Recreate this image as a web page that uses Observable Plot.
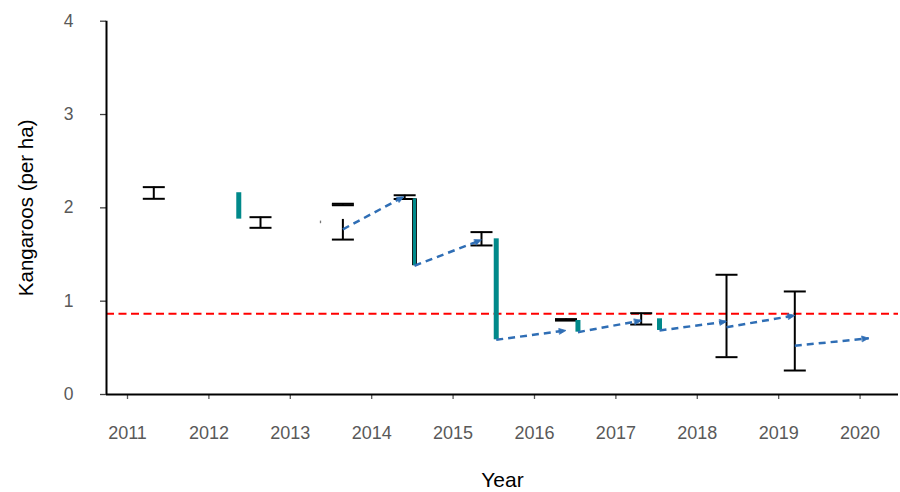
<!DOCTYPE html>
<html><head><meta charset="utf-8">
<script src="https://cdn.jsdelivr.net/npm/d3@7"></script>
<script src="https://cdn.jsdelivr.net/npm/@observablehq/plot@0.6"></script>
<style>body{margin:0;background:#fff} svg{display:block}</style>
</head><body><div id="chart"></div>
<script>
// ---- data ----
const yearTicks = [2011, 2012, 2013, 2014, 2015, 2016, 2017, 2018, 2019, 2020];
const yTicks = [0, 1, 2, 3, 4];
const xDomain = [2010.742, 2020.472];
const yDomain = [0, 4];
const threshold = 0.865;

// survey confidence intervals
const surveyTime = [2011.323, 2012.634, 2013.646, 2014.405, 2015.349, 2016.387, 2017.311, 2018.359, 2019.198];
const surveyHi   = [2.222, 1.900, 2.044, 2.135, 1.740, 0.808, 0.871, 1.283, 1.104];
const surveyLo   = [2.097, 1.786, 2.028, 2.095, 1.597, 0.792, 0.750, 0.400, 0.257];

// lower-only interval
const lowerOnlyTime = [2013.646];
const lowerOnlyMid  = [1.876];
const lowerOnlyLo   = [1.660];

// culls (drops)
const cullTime = [2012.367, 2014.526, 2015.530, 2016.534, 2017.536];
const cullFrom = [2.162, 2.097, 1.668, 0.793, 0.811];
const cullTo   = [1.879, 1.380, 0.586, 0.668, 0.686];
const cullOutlined = [false, true, false, false, false];

// tiny mark
const markTime = [2013.371];
const markFrom = [1.858];
const markTo   = [1.830];

// growth arrows
const growStartTime = [2013.646, 2014.526, 2015.530, 2016.534, 2017.536, 2018.359, 2019.198];
const growStartVal  = [1.770, 1.380, 0.586, 0.668, 0.686, 0.721, 0.522];
const growEndTime   = [2014.395, 2015.349, 2016.387, 2017.311, 2018.359, 2019.198, 2020.107];
const growEndVal    = [2.120, 1.657, 0.686, 0.793, 0.782, 0.847, 0.603];

// ---- tables ----
const surveys = surveyTime.map((t, i) => ({t, hi: surveyHi[i], lo: surveyLo[i]}));
const lowerOnly = lowerOnlyTime.map((t, i) => ({t, mid: lowerOnlyMid[i], lo: lowerOnlyLo[i]}));
const culls = cullTime.map((t, i) => ({t, from: cullFrom[i], to: cullTo[i], outlined: cullOutlined[i]}));
const marks = markTime.map((t, i) => ({t, from: markFrom[i], to: markTo[i]}));
const growth = growStartTime.map((t, i) => ({x1: t, y1: growStartVal[i], x2: growEndTime[i], y2: growEndVal[i]}));

const capSymbol = {draw(ctx, size) { const r = Math.sqrt(size / Math.PI); ctx.moveTo(-r, 0); ctx.lineTo(r, 0); }};
const TEAL = "#00898a", BLUE = "#2f6eb5";

const plot = Plot.plot({
  width: 900, height: 492,
  marginLeft: 106, marginRight: 2, marginTop: 20.7, marginBottom: 98,
  style: {fontFamily: "'Liberation Sans', Arial, sans-serif", background: "#fff"},
  x: {domain: xDomain},
  y: {domain: yDomain},
  marks: [
    Plot.axisY(yTicks, {tickSize: 6, tickPadding: 27, fontSize: 17.5, fill: "#595959", stroke: "#404040", strokeWidth: 1.3, tickFormat: d => String(d), label: null}),
    Plot.axisX(yearTicks, {tickSize: 5, tickPadding: 26.5, fontSize: 18, fill: "#595959", stroke: "#595959", strokeWidth: 1.3, tickFormat: d => String(d), label: null}),
    Plot.ruleY([threshold], {stroke: "#ff0000", strokeWidth: 2, strokeDasharray: "8,4.5"}),
    Plot.ruleX([xDomain[0]], {y1: yDomain[0], y2: yDomain[1], stroke: "#000", strokeWidth: 2}),
    Plot.ruleY([yDomain[0]], {stroke: "#000", strokeWidth: 2}),
    // error bars
    Plot.ruleX(surveys, {x: "t", y1: "lo", y2: "hi", stroke: "#000", strokeWidth: 2}),
    Plot.dot(surveys, {x: "t", y: "hi", symbol: capSymbol, r: 11, stroke: "#000", strokeWidth: 2, fill: "none"}),
    Plot.dot(surveys, {x: "t", y: "lo", symbol: capSymbol, r: 11, stroke: "#000", strokeWidth: 2, fill: "none"}),
    Plot.ruleX(lowerOnly, {x: "t", y1: "lo", y2: "mid", stroke: "#000", strokeWidth: 2}),
    Plot.dot(lowerOnly, {x: "t", y: "lo", symbol: capSymbol, r: 11, stroke: "#000", strokeWidth: 2, fill: "none"}),
    Plot.ruleX(marks, {x: "t", y1: "to", y2: "from", stroke: "#777", strokeWidth: 1.3}),
    // culls
    Plot.ruleX(culls.filter(d => d.outlined), {x: "t", y1: "to", y2: "from", stroke: "#1a1a1a", strokeWidth: 5}),
    Plot.ruleX(culls, {x: "t", y1: "to", y2: "from", stroke: TEAL, strokeWidth: d => d.outlined ? 3 : 5}),
    // growth
    Plot.link(growth, {x1: "x1", y1: "y1", x2: "x2", y2: "y2", stroke: BLUE, strokeWidth: 2.5, strokeDasharray: "7,5", markerEnd: "arrow"}),
    // titles
    Plot.text(["Kangaroos (per ha)"], {frameAnchor: "left", dx: -74, rotate: -90, textAnchor: "middle", lineAnchor: "bottom", fontSize: 20.5, fill: "#000"}),
    Plot.text(["Year"], {frameAnchor: "bottom", dy: 92, textAnchor: "middle", lineAnchor: "bottom", fontSize: 21, fill: "#000"})
  ]
});

plot.querySelectorAll("marker").forEach(m => {
  m.setAttribute("stroke-dasharray", "none");
  m.setAttribute("stroke-width", "0.4");
  const p = m.querySelector("path");
  if (p) {
    p.setAttribute("d", "M-4,-1.7L0,0L-4,1.7Z");
    p.setAttribute("fill", m.getAttribute("stroke") || BLUE);
    p.setAttribute("stroke-dasharray", "none");
  }
});

document.getElementById("chart").appendChild(plot);
</script>
</body></html>
